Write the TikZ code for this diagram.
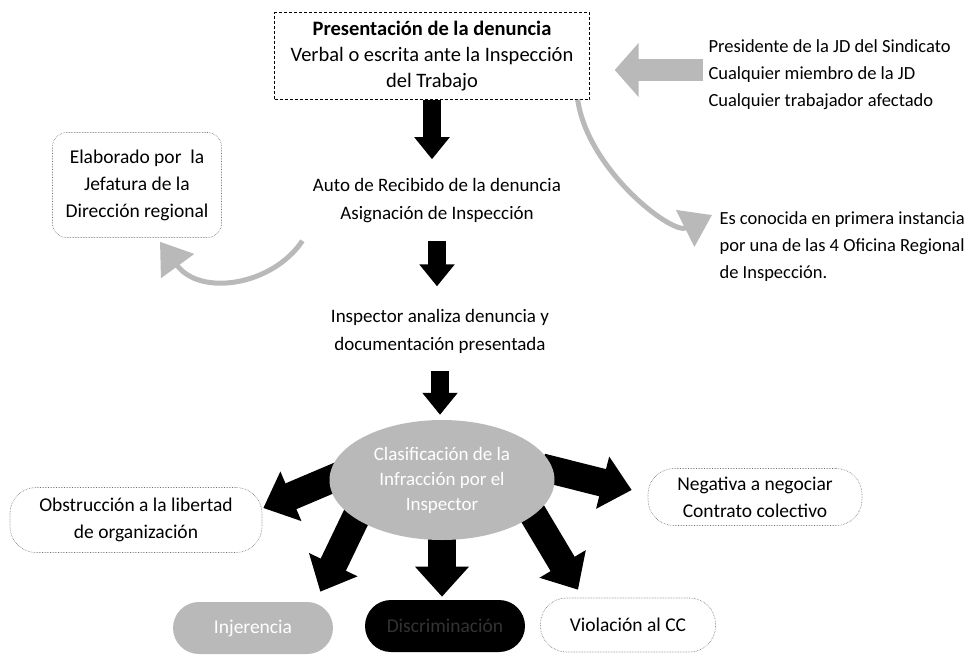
\documentclass[tikz,border=0pt]{standalone}
\usepackage{fontspec}
\setmainfont{Carlito}
\usetikzlibrary{shapes, arrows.meta, positioning, backgrounds}

\begin{document}
\begin{tikzpicture}[x=1pt, y=-1pt,
    texto/.style={align=center, font=\fontsize{19}{28}\selectfont},
    nota/.style={anchor=west, align=left, font=\fontsize{18.5}{27}\selectfont},
    caja/.style={draw, densely dashed, thin, rectangle, minimum width=315pt, minimum height=87pt, align=center, font=\fontsize{20.5}{26}\selectfont},
    pildora/.style={draw=black!55, densely dotted, line width=0.6pt, rounded corners=26pt, align=center, inner sep=2pt, font=\fontsize{19.5}{27}\selectfont},
    flecha/.style={line width=18pt, -{Triangle[width=34pt, length=22pt]}},
    flechagrande/.style={line width=28pt, -{Triangle[width=52pt, length=30pt]}},
    flechagris/.style={gray!55, line width=22pt, -{Triangle[width=53pt, length=24pt]}},
    curva/.style={gray!55, line width=5pt, -{Triangle[width=40pt, length=30pt]}}]

\useasboundingbox (0,0) rectangle (978,654);

% pasos centrales
\node[caja] (pres) at (432,56) {\textbf{Presentación de la denuncia}\\Verbal o escrita ante la Inspección\\del Trabajo};
\node[texto] (auto) at (437,201) {Auto de Recibido de la denuncia\\Asignación de Inspección};
\node[texto] (analiza) at (440,331) {Inspector analiza denuncia y\\documentación presentada};
\node[ellipse, fill=gray!55, minimum width=225pt, minimum height=120pt, inner sep=0pt, align=center, text=white, font=\fontsize{19}{25}\selectfont] (clasif) at (442,480) {Clasificación de la\\Infracción por el\\Inspector};

% notas laterales
\node[nota] (quien) at (705,75) {Presidente de la JD del Sindicato\\Cualquier miembro de la JD\\Cualquier trabajador afectado};
\node[nota] (oficina) at (716,247) {Es conocida en primera instancia\\por una de las 4 Oficina Regional\\de Inspección.};
\node[pildora, rounded corners=14pt, minimum width=169pt, minimum height=105pt] (elab) at (137,185) {Elaborado por\ \ la\\Jefatura de la\\Dirección regional};

% tipos de infraccion
\node[pildora, minimum width=252pt, minimum height=65pt] (obst) at (136,520) {Obstrucción a la libertad\\de organización};
\node[pildora, minimum width=214pt, minimum height=57pt] (neg) at (755,497) {Negativa a negociar\\Contrato colectivo};
\node[pildora, draw=none, fill=gray!55, text=white, minimum width=160pt, minimum height=52pt] (injer) at (253,628) {Injerencia};
\node[pildora, draw=none, fill=black, text=black!80!white, minimum width=160pt, minimum height=52pt] (discr) at (445,626) {Discriminación};
\node[pildora, minimum width=175pt, minimum height=54pt] (viol) at (628,625) {Violación al CC};

% flujo principal
\draw[flecha, shorten >=16pt] (pres.south) -- (pres.south |- auto.north);
\draw[flecha, shorten <=14pt, shorten >=19pt] (auto.south) -- (auto.south |- analiza.north);
\draw[flecha, shorten <=14pt, shorten >=5pt] (analiza.south) -- (analiza.south |- clasif.north);

\begin{scope}[on background layer]
\draw[flechagrande, shorten <=-12pt] (clasif.180) -- ([shift={(1,-12)}]obst.east);
\draw[flechagrande, shorten <=-12pt] (clasif.5) -- ([shift={(-16,-7)}]neg.west);
\draw[flechagrande, shorten <=-12pt] (clasif.204) -- ([shift={(-13,-10)}]injer.north east);
\draw[flechagrande, shorten <=-12pt, shorten >=3pt] (clasif.south) -- (clasif.south |- discr.north);
\draw[flechagrande, shorten <=-12pt] (clasif.-21) -- ([shift={(-50,-8)}]viol.north);
\end{scope}

% flechas laterales
\draw[flechagris, shorten <=2pt, shorten >=25pt] ([shift={(0,-5)}]quien.west) -- ([shift={(0,-5)}]quien.west -| pres.east);
\draw[curva] ([shift={(-12,0)}]pres.south east) .. controls +(10,70) and +(-40,20) .. ([shift={(-4,-32)}]oficina.west);
\draw[curva] ([shift={(-7,14)}]auto.south west) .. controls +(-30,45) and +(40,55) .. ([shift={(23,4)}]elab.south);
\end{tikzpicture}
\end{document}
